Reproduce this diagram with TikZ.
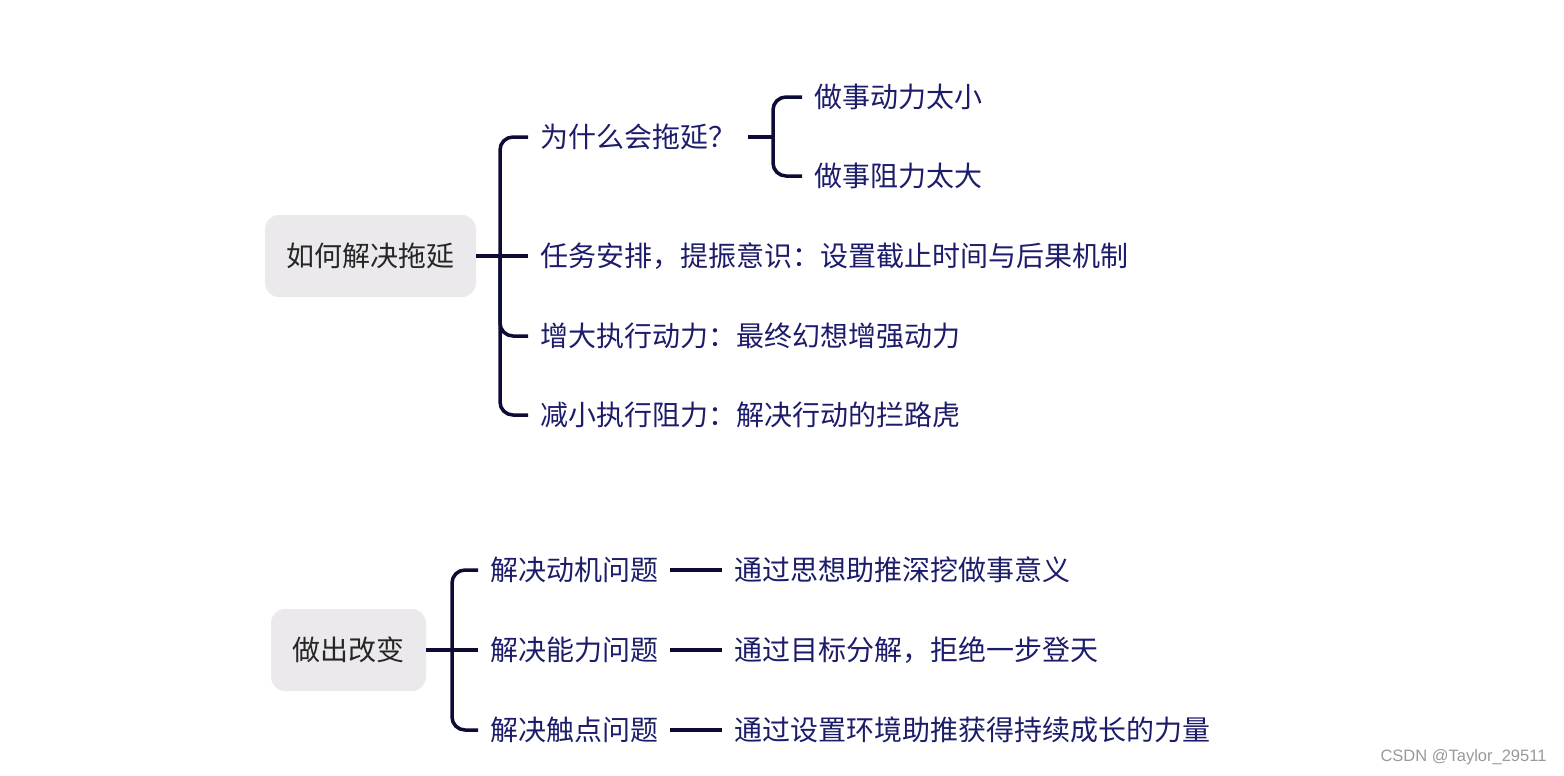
\documentclass[tikz,border=0pt]{standalone}
\usepackage{fontspec}
\setmainfont{Noto Sans CJK SC}
\newfontfamily\wmfont{Liberation Sans}
\definecolor{boxgray}{HTML}{EBE9EC}
\definecolor{linenavy}{HTML}{0C0C36}
\definecolor{textnavy}{HTML}{1C1C6B}
\begin{document}
\begin{tikzpicture}[x=1pt,y=-1pt]
        \tikzstyle{root} = [rectangle, rounded corners=14pt, fill=boxgray, text=black!85, minimum height=82pt, inner sep=0pt, font=\fontsize{28}{32}\selectfont]
        \tikzstyle{leaf} = [anchor=west, inner xsep=12pt, inner ysep=0pt, text=textnavy, font=\fontsize{28}{32}\selectfont]
        \tikzstyle{link} = [line width=3.5pt, draw=linenavy, rounded corners=13pt]
        \useasboundingbox (0,0) rectangle (1564,776);
        \node [root, minimum width=211pt] (r1) at (370.5,256) {如何解决拖延};
	 \node [leaf] (a) at (528,137) {为什么会拖延？};
	 \node [leaf] (b) at (528,256) {任务安排，提振意识：设置截止时间与后果机制};
	 \node [leaf] (c) at (528,336) {增大执行动力：最终幻想增强动力};
	 \node [leaf] (d) at (528,415) {减小执行阻力：解决行动的拦路虎};
	 \node [leaf] (a1) at (802,97) {做事动力太小};
	 \node [leaf] (a2) at (802,176) {做事阻力太大};
	 \coordinate (j1) at (500,256);
	 \coordinate (j2) at (773,137);
        \node [root, minimum width=155pt] (r2) at (348.5,650) {做出改变};
	 \node [leaf] (e) at (478,570) {解决动机问题};
	 \node [leaf] (f) at (478,650) {解决能力问题};
	 \node [leaf] (g) at (478,730) {解决触点问题};
	 \node [leaf] (e1) at (722,570) {通过思想助推深挖做事意义};
	 \node [leaf] (f1) at (722,650) {通过目标分解，拒绝一步登天};
	 \node [leaf] (g1) at (722,730) {通过设置环境助推获得持续成长的力量};
	 \coordinate (j3) at (452,650);
        \node [anchor=east, text=black!40, font=\wmfont\fontsize{16.5}{18}\selectfont] (wm) at (1550,757) {CSDN @Taylor\_29511};
     \draw[link] (r1.east) -- (b.west);
     \draw[link] (j1) |- (a.west);
     \draw[link] (j1) |- (c.west);
     \draw[link] (j1) |- (d.west);
     \draw[link] (a.east) -- (j2);
     \draw[link] (j2) |- (a1.west);
     \draw[link] (j2) |- (a2.west);
     \draw[link] (r2.east) -- (f.west);
     \draw[link] (j3) |- (e.west);
     \draw[link] (j3) |- (g.west);
     \draw[link] (e.east) -- (e1.west);
     \draw[link] (f.east) -- (f1.west);
     \draw[link] (g.east) -- (g1.west);
    \end{tikzpicture}
\end{document}
